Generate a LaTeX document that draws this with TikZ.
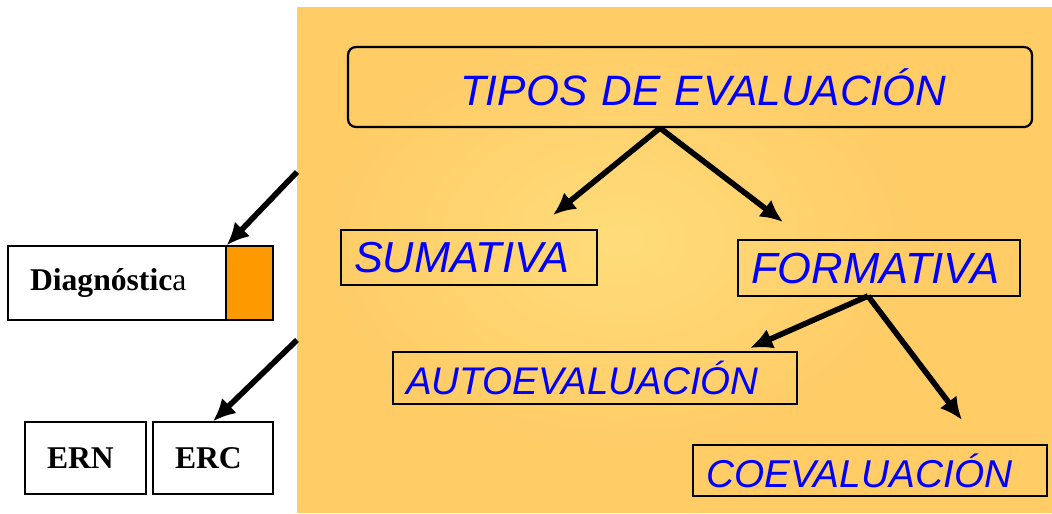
\documentclass[tikz,border=0pt]{standalone}
\usepackage{fontspec}
\setmainfont{Liberation Serif}
\newfontfamily\arialfont{Liberation Sans}
\usetikzlibrary{calc,arrows.meta}

\definecolor{panel}{RGB}{255,204,102}
\definecolor{glow}{RGB}{255,220,122}
\definecolor{tab}{RGB}{255,153,0}
\newdimen\pxu \pxu=0.025cm

\tikzset{
  tipo/.style={draw, line width=1.6pt, text=blue, inner sep=0pt, inner xsep=13*\pxu,
    align=left, font=\arialfont\itshape\fontsize{#1}{#1}\selectfont},
  tipo/.default=29,
  hoja/.style={draw, line width=0.9pt, fill=white, inner sep=0pt, inner xsep=22*\pxu,
    align=left, font=\bfseries\fontsize{22.5}{22.5}\selectfont},
  flecha/.style={line width=4pt, -{Latex[length=16pt,width=15pt]}}
}

\begin{document}
\begin{tikzpicture}[x=0.025cm, y=-0.025cm]
\useasboundingbox (0,0) rectangle (1052,513);
% fondo
\fill[panel] (297,7) rectangle (1052,513);
\begin{scope}
\clip (297,7) rectangle (1052,513);
\shade[inner color=glow, outer color=panel] (620,240) ellipse [x radius=300, y radius=210];
\end{scope}

% tipos
\node[tipo=30.2, rounded corners=8*\pxu, inner xsep=0pt, text width=684*\pxu, minimum height=80*\pxu] (tipos) at (690,87) {\hspace*{112\pxu}TIPOS DE EVALUACIÓN};
\node[tipo=30.8, text width=230*\pxu, minimum height=55*\pxu] (sum) at (469,257.5) {SUMATIVA};
\node[tipo=31, text width=256*\pxu, minimum height=56*\pxu] (form) at (879,268) {FORMATIVA};
\node[tipo=27.4, text width=378*\pxu, minimum height=52*\pxu] (auto) at (595,378) {AUTOEVALUACIÓN};
\node[tipo=27.6, text width=328*\pxu, minimum height=51*\pxu] (coev) at (870,470.5) {COEVALUACIÓN};

\coordinate (t0) at (660,128);
\coordinate (t1) at (553,215);
\coordinate (t2) at (783,222);
\coordinate (f0) at (868,296);
\coordinate (f1) at (750,348);
\coordinate (f2) at (962,420);
\draw[flecha] (t0) -- (t1);
\draw[flecha] (t0) -- (t2);
\draw[flecha] (f0) -- (f1);
\draw[flecha] (f0) -- (f2);

% izquierda
\node[hoja, text width=174*\pxu, minimum height=74*\pxu] (diag) at (117,283) {Diagnóstic\textmd{a}};
\node[draw, line width=0.9pt, fill=tab, minimum width=47*\pxu, minimum height=74*\pxu] (pest) at (249.5,283) {};
\node[hoja, text width=77*\pxu, minimum height=72*\pxu] (ern) at (85.5,458) {ERN};
\node[hoja, text width=76*\pxu, minimum height=72*\pxu] (erc) at (213,458) {ERC};

\coordinate (l1) at (297,172);
\coordinate (l2) at (297,340);
\draw[flecha] (l1) -- (diag.north east);
\draw[flecha] (l2) -- (erc.north);
\end{tikzpicture}
\end{document}
